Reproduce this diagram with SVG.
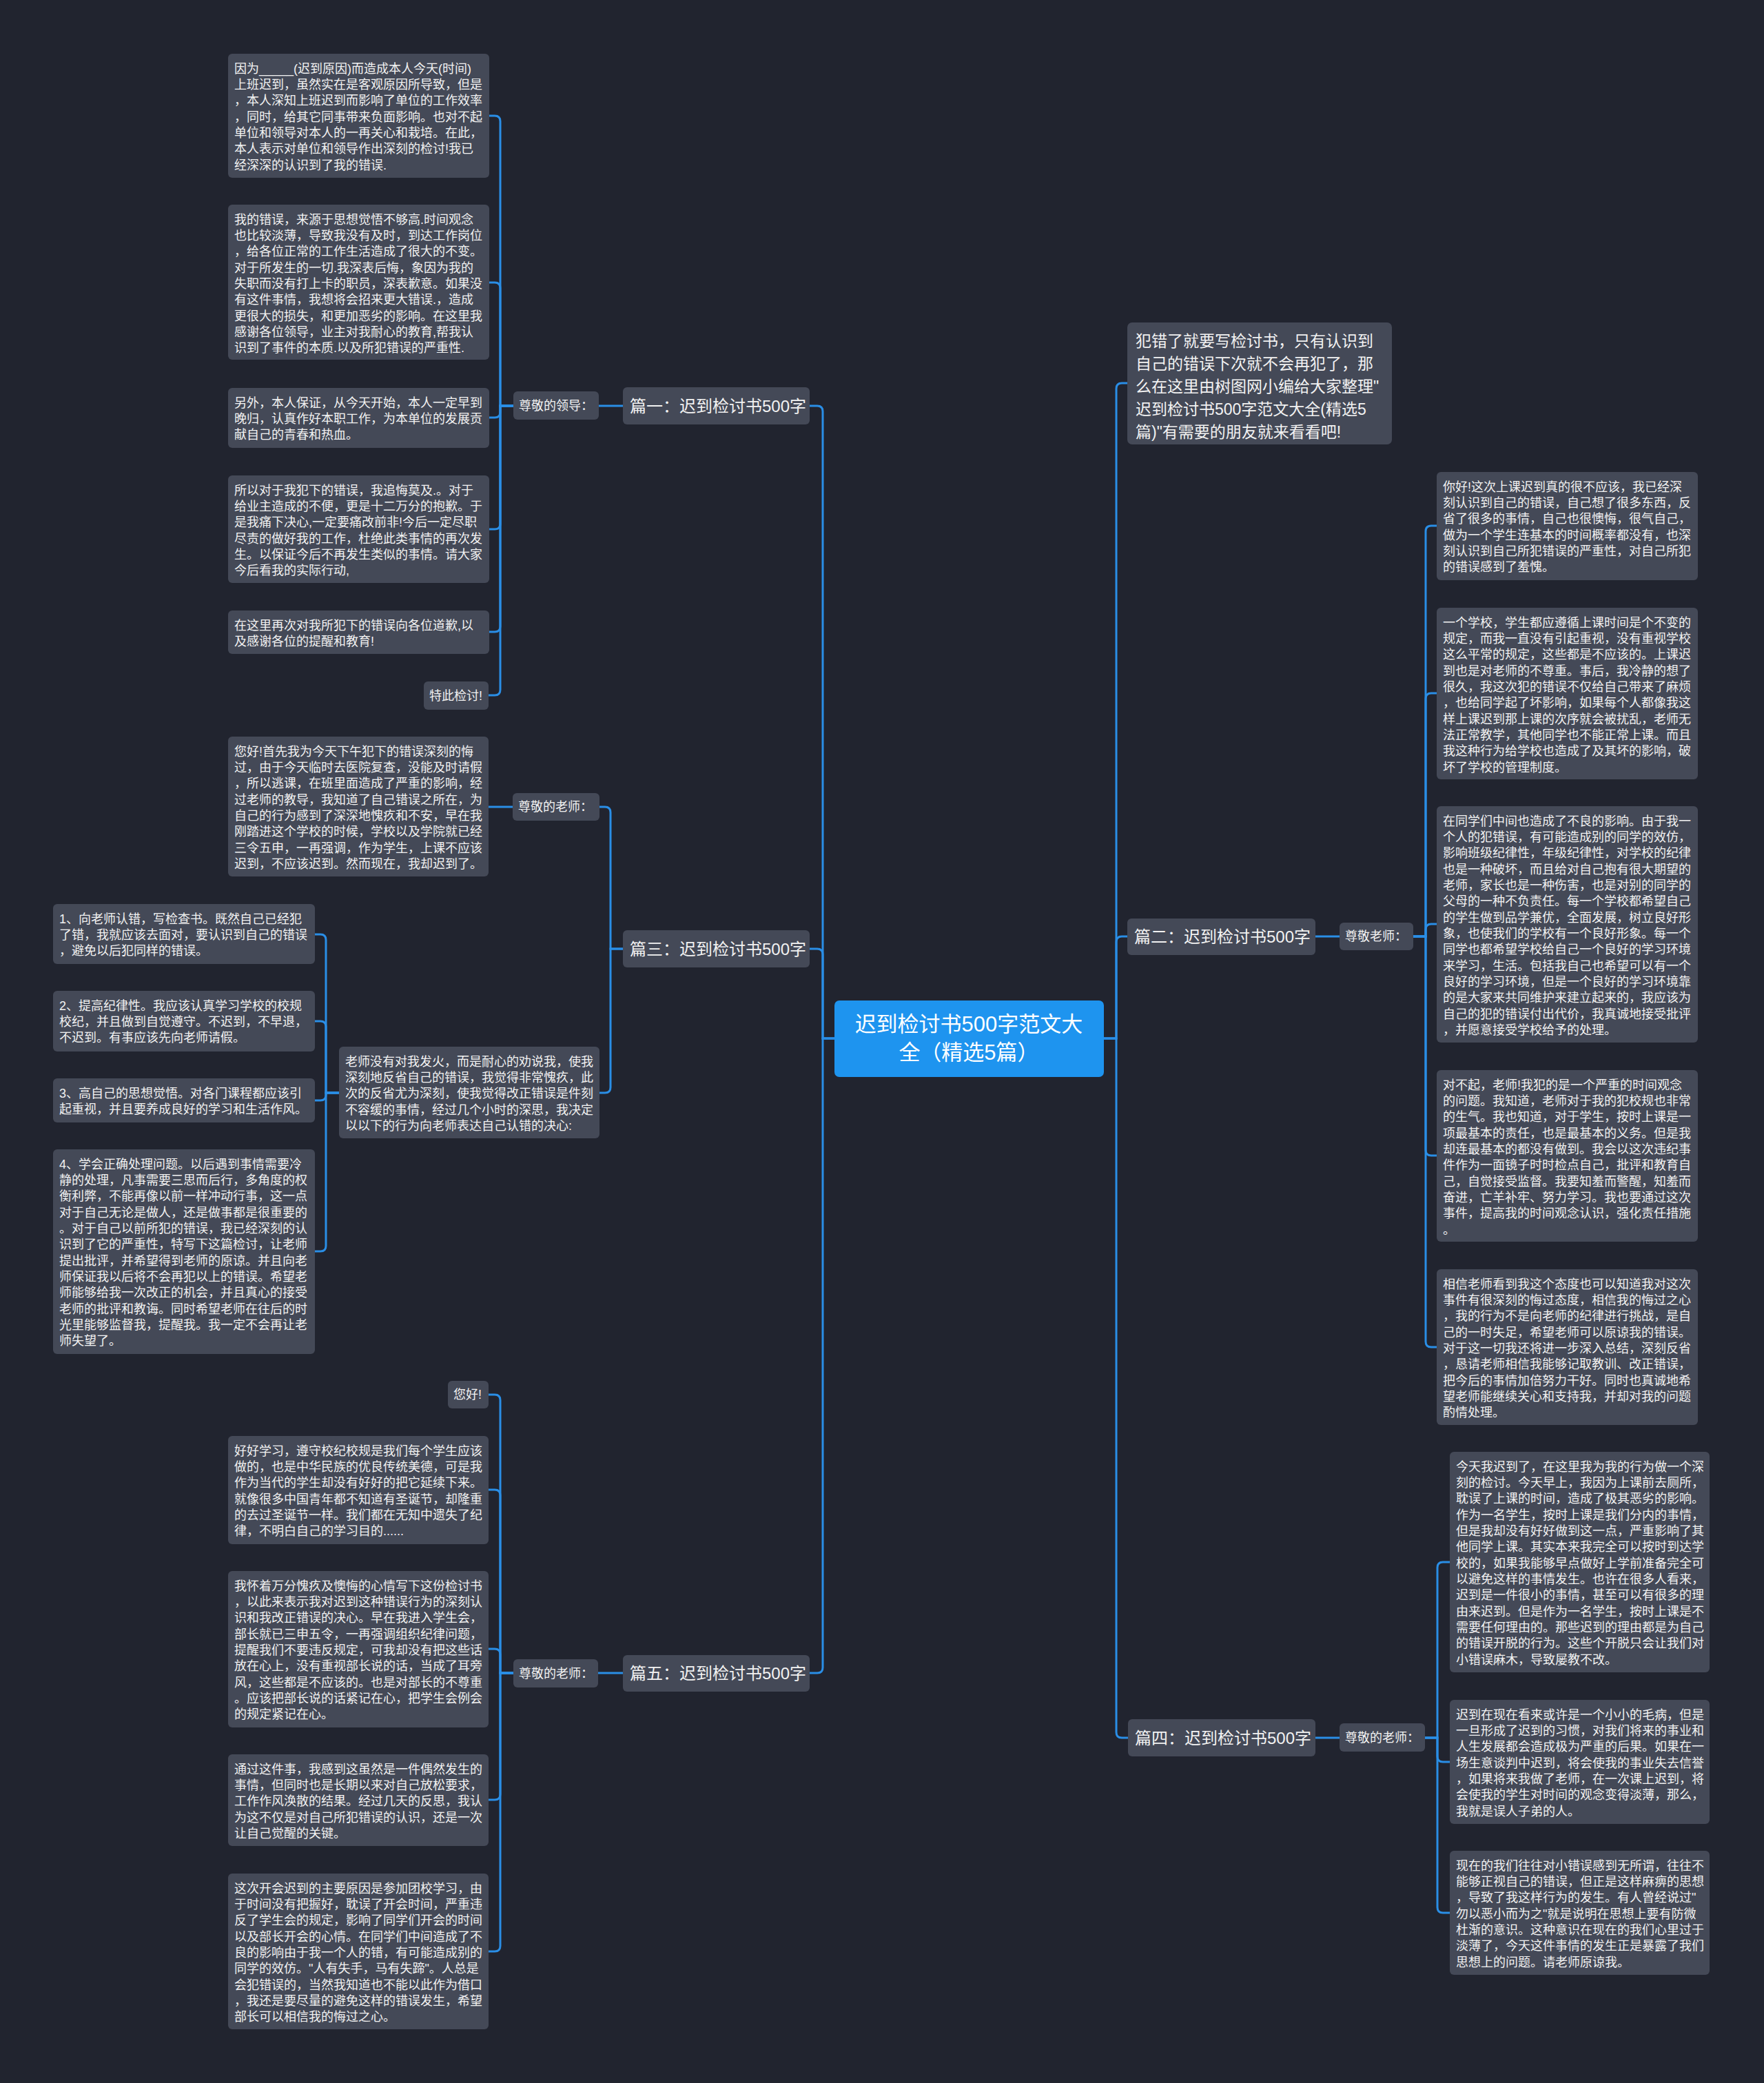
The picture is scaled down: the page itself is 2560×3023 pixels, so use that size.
<svg xmlns="http://www.w3.org/2000/svg" width="2560" height="3023" viewBox="0 0 2560 3023">
<style>
.box{fill:#444957}
.t{font-family:"Liberation Sans","Noto Sans CJK SC",sans-serif;font-size:18px;fill:#f2f2f2;dominant-baseline:central}
.h{font-family:"Liberation Sans","Noto Sans CJK SC",sans-serif;font-size:24px;fill:#f2f2f2;dominant-baseline:central}
.it{font-family:"Liberation Sans","Noto Sans CJK SC",sans-serif;font-size:23px;fill:#f2f2f2;dominant-baseline:central}
.c{font-family:"Liberation Sans","Noto Sans CJK SC",sans-serif;font-size:31px;fill:#ffffff;dominant-baseline:central;text-anchor:middle}
.conn path{fill:none;stroke:#2a8ee6;stroke-width:3}
</style>
<rect width="2560" height="3023" fill="#21242f"/>
<g class="conn" id="connectors">
<path d="M1211 1507 H1194 V597 Q1194 589 1186 589 H1175"/>
<path d="M1211 1507 H1194 V1385 Q1194 1377 1186 1377 H1175"/>
<path d="M1211 1507 H1194 V2420 Q1194 2428 1186 2428 H1175"/>
<path d="M1602 1507 H1620 V564 Q1620 556 1628 556 H1636"/>
<path d="M1602 1507 H1620 V1367 Q1620 1359 1628 1359 H1636"/>
<path d="M1602 1507 H1620 V2514 Q1620 2522 1628 2522 H1637"/>
<path d="M904 589 H869"/>
<path d="M745 589 H726 V176 Q726 168 718 168 H710"/>
<path d="M745 589 H726 V418 Q726 410 718 410 H710"/>
<path d="M745 589 H726 V598 Q726 606 718 606 H710"/>
<path d="M745 589 H726 V760 Q726 768 718 768 H710"/>
<path d="M745 589 H726 V909 Q726 917 718 917 H710"/>
<path d="M745 589 H726 V1001 Q726 1009 718 1009 H709"/>
<path d="M904 1377 H886 V1179 Q886 1171 878 1171 H870"/>
<path d="M904 1377 H886 V1578 Q886 1586 878 1586 H870"/>
<path d="M744 1171 H709"/>
<path d="M492 1586 H473 V1364 Q473 1356 465 1356 H457"/>
<path d="M492 1586 H473 V1490 Q473 1482 465 1482 H457"/>
<path d="M492 1586 H473 V1589 Q473 1597 465 1597 H457"/>
<path d="M492 1586 H473 V1808 Q473 1816 465 1816 H457"/>
<path d="M904 2428 H868"/>
<path d="M745 2428 H726 V2032 Q726 2024 718 2024 H709"/>
<path d="M745 2428 H726 V2170 Q726 2162 718 2162 H709"/>
<path d="M745 2428 H726 V2401 Q726 2393 718 2393 H709"/>
<path d="M745 2428 H726 V2604 Q726 2612 718 2612 H709"/>
<path d="M745 2428 H726 V2824 Q726 2832 718 2832 H709"/>
<path d="M1909 1359 H1944"/>
<path d="M2051 1359 H2069 V771 Q2069 763 2077 763 H2085"/>
<path d="M2051 1359 H2069 V1014 Q2069 1006 2077 1006 H2085"/>
<path d="M2051 1359 H2069 V1349 Q2069 1341 2077 1341 H2085"/>
<path d="M2051 1359 H2069 V1669 Q2069 1677 2077 1677 H2085"/>
<path d="M2051 1359 H2069 V1947 Q2069 1955 2077 1955 H2085"/>
<path d="M1909 2522 H1944"/>
<path d="M2068 2522 H2086 V2275 Q2086 2267 2094 2267 H2104"/>
<path d="M2068 2522 H2086 V2549 Q2086 2557 2094 2557 H2104"/>
<path d="M2068 2522 H2086 V2768 Q2086 2776 2094 2776 H2104"/>
</g>

<g id="center">
<rect x="1211" y="1452" width="391" height="111" rx="7" fill="#1e94ef"/>
<text class="c" x="1406" y="1486">迟到检讨书500字范文大</text>
<text class="c" x="1406" y="1527">全（精选5篇）</text>
</g>

<g id="p1">
<rect class="box" x="904" y="562" width="271" height="54" rx="6"/>
<text class="h" x="914" y="589">篇一：迟到检讨书500字</text>
</g>
<g id="p1-label">
<rect class="box" x="745" y="568" width="124" height="41" rx="6"/>
<text class="t" x="753" y="589">尊敬的领导：</text>
</g>
<g id="p1-a">
<rect class="box" x="331" y="78" width="379" height="180" rx="6"/>
<text class="t" x="340" y="99.7">因为_____(迟到原因)而造成本人今天(时间)<tspan x="340" dy="23.33">上班迟到，虽然实在是客观原因所导致，但是</tspan><tspan x="340" dy="23.33">，本人深知上班迟到而影响了单位的工作效率</tspan><tspan x="340" dy="23.33">，同时，给其它同事带来负面影响。也对不起</tspan><tspan x="340" dy="23.33">单位和领导对本人的一再关心和栽培。在此，</tspan><tspan x="340" dy="23.33">本人表示对单位和领导作出深刻的检讨!我已</tspan><tspan x="340" dy="23.33">经深深的认识到了我的错误.</tspan></text>
</g>
<g id="p1-b">
<rect class="box" x="331" y="297" width="379" height="225" rx="6"/>
<text class="t" x="340" y="318.7">我的错误，来源于思想觉悟不够高.时间观念<tspan x="340" dy="23.33">也比较淡薄，导致我没有及时，到达工作岗位</tspan><tspan x="340" dy="23.33">，给各位正常的工作生活造成了很大的不变。</tspan><tspan x="340" dy="23.33">对于所发生的一切.我深表后悔，象因为我的</tspan><tspan x="340" dy="23.33">失职而没有打上卡的职员，深表歉意。如果没</tspan><tspan x="340" dy="23.33">有这件事情，我想将会招来更大错误.，造成</tspan><tspan x="340" dy="23.33">更很大的损失，和更加恶劣的影响。在这里我</tspan><tspan x="340" dy="23.33">感谢各位领导，业主对我耐心的教育,帮我认</tspan><tspan x="340" dy="23.33">识到了事件的本质.以及所犯错误的严重性.</tspan></text>
</g>
<g id="p1-c">
<rect class="box" x="331" y="563" width="379" height="87" rx="6"/>
<text class="t" x="340" y="584.7">另外，本人保证，从今天开始，本人一定早到<tspan x="340" dy="23.33">晚归，认真作好本职工作，为本单位的发展贡</tspan><tspan x="340" dy="23.33">献自己的青春和热血。</tspan></text>
</g>
<g id="p1-d">
<rect class="box" x="331" y="690" width="379" height="156" rx="6"/>
<text class="t" x="340" y="711.7">所以对于我犯下的错误，我追悔莫及.。对于<tspan x="340" dy="23.33">给业主造成的不便，更是十二万分的抱歉。于</tspan><tspan x="340" dy="23.33">是我痛下决心,一定要痛改前非!今后一定尽职</tspan><tspan x="340" dy="23.33">尽责的做好我的工作，杜绝此类事情的再次发</tspan><tspan x="340" dy="23.33">生。以保证今后不再发生类似的事情。请大家</tspan><tspan x="340" dy="23.33">今后看我的实际行动,</tspan></text>
</g>
<g id="p1-e">
<rect class="box" x="331" y="886" width="379" height="63" rx="6"/>
<text class="t" x="340" y="907.7">在这里再次对我所犯下的错误向各位道歉,以<tspan x="340" dy="23.33">及感谢各位的提醒和教育!</tspan></text>
</g>
<g id="p1-f">
<rect class="box" x="615" y="989" width="94" height="41" rx="6"/>
<text class="t" x="623" y="1009.5">特此检讨!</text>
</g>

<g id="p3">
<rect class="box" x="904" y="1350" width="271" height="54" rx="6"/>
<text class="h" x="914" y="1377">篇三：迟到检讨书500字</text>
</g>
<g id="p3-label">
<rect class="box" x="744" y="1151" width="126" height="40" rx="6"/>
<text class="t" x="752" y="1171">尊敬的老师：</text>
</g>
<g id="p3-a">
<rect class="box" x="331" y="1069" width="378" height="203" rx="6"/>
<text class="t" x="340" y="1090.7">您好!首先我为今天下午犯下的错误深刻的悔<tspan x="340" dy="23.33">过，由于今天临时去医院复查，没能及时请假</tspan><tspan x="340" dy="23.33">，所以逃课，在班里面造成了严重的影响，经</tspan><tspan x="340" dy="23.33">过老师的教导，我知道了自己错误之所在，为</tspan><tspan x="340" dy="23.33">自己的行为感到了深深地愧疚和不安，早在我</tspan><tspan x="340" dy="23.33">刚踏进这个学校的时候，学校以及学院就已经</tspan><tspan x="340" dy="23.33">三令五申，一再强调，作为学生，上课不应该</tspan><tspan x="340" dy="23.33">迟到，不应该迟到。然而现在，我却迟到了。</tspan></text>
</g>
<g id="p3-b">
<rect class="box" x="492" y="1519" width="378" height="133" rx="6"/>
<text class="t" x="501" y="1540.7">老师没有对我发火，而是耐心的劝说我，使我<tspan x="501" dy="23.33">深刻地反省自己的错误，我觉得非常愧疚，此</tspan><tspan x="501" dy="23.33">次的反省尤为深刻，使我觉得改正错误是件刻</tspan><tspan x="501" dy="23.33">不容缓的事情，经过几个小时的深思，我决定</tspan><tspan x="501" dy="23.33">以以下的行为向老师表达自己认错的决心:</tspan></text>
</g>
<g id="p3-b1">
<rect class="box" x="77" y="1312" width="380" height="87" rx="6"/>
<text class="t" x="86" y="1333.7">1、向老师认错，写检查书。既然自己已经犯<tspan x="86" dy="23.33">了错，我就应该去面对，要认识到自己的错误</tspan><tspan x="86" dy="23.33">，避免以后犯同样的错误。</tspan></text>
</g>
<g id="p3-b2">
<rect class="box" x="77" y="1438" width="380" height="88" rx="6"/>
<text class="t" x="86" y="1459.7">2、提高纪律性。我应该认真学习学校的校规<tspan x="86" dy="23.33">校纪，并且做到自觉遵守。不迟到，不早退，</tspan><tspan x="86" dy="23.33">不迟到。有事应该先向老师请假。</tspan></text>
</g>
<g id="p3-b3">
<rect class="box" x="77" y="1565" width="380" height="64" rx="6"/>
<text class="t" x="86" y="1586.7">3、高自己的思想觉悟。对各门课程都应该引<tspan x="86" dy="23.33">起重视，并且要养成良好的学习和生活作风。</tspan></text>
</g>
<g id="p3-b4">
<rect class="box" x="77" y="1668" width="380" height="297" rx="6"/>
<text class="t" x="86" y="1689.7">4、学会正确处理问题。以后遇到事情需要冷<tspan x="86" dy="23.33">静的处理，凡事需要三思而后行，多角度的权</tspan><tspan x="86" dy="23.33">衡利弊，不能再像以前一样冲动行事，这一点</tspan><tspan x="86" dy="23.33">对于自己无论是做人，还是做事都是很重要的</tspan><tspan x="86" dy="23.33">。对于自己以前所犯的错误，我已经深刻的认</tspan><tspan x="86" dy="23.33">识到了它的严重性，特写下这篇检讨，让老师</tspan><tspan x="86" dy="23.33">提出批评，并希望得到老师的原谅。并且向老</tspan><tspan x="86" dy="23.33">师保证我以后将不会再犯以上的错误。希望老</tspan><tspan x="86" dy="23.33">师能够给我一次改正的机会，并且真心的接受</tspan><tspan x="86" dy="23.33">老师的批评和教诲。同时希望老师在往后的时</tspan><tspan x="86" dy="23.33">光里能够监督我，提醒我。我一定不会再让老</tspan><tspan x="86" dy="23.33">师失望了。</tspan></text>
</g>

<g id="p5">
<rect class="box" x="904" y="2402" width="271" height="53" rx="6"/>
<text class="h" x="914" y="2428">篇五：迟到检讨书500字</text>
</g>
<g id="p5-label">
<rect class="box" x="745" y="2408" width="123" height="41" rx="6"/>
<text class="t" x="753" y="2428.5">尊敬的老师：</text>
</g>
<g id="p5-a">
<rect class="box" x="650" y="2004" width="59" height="40" rx="6"/>
<text class="t" x="658" y="2024">您好!</text>
</g>
<g id="p5-b">
<rect class="box" x="331" y="2084" width="378" height="157" rx="6"/>
<text class="t" x="340" y="2105.7">好好学习，遵守校纪校规是我们每个学生应该<tspan x="340" dy="23.33">做的，也是中华民族的优良传统美德，可是我</tspan><tspan x="340" dy="23.33">作为当代的学生却没有好好的把它延续下来。</tspan><tspan x="340" dy="23.33">就像很多中国青年都不知道有圣诞节，却隆重</tspan><tspan x="340" dy="23.33">的去过圣诞节一样。我们都在无知中遗失了纪</tspan><tspan x="340" dy="23.33">律，不明白自己的学习目的......</tspan></text>
</g>
<g id="p5-c">
<rect class="box" x="331" y="2280" width="378" height="227" rx="6"/>
<text class="t" x="340" y="2301.7">我怀着万分愧疚及懊悔的心情写下这份检讨书<tspan x="340" dy="23.33">，以此来表示我对迟到这种错误行为的深刻认</tspan><tspan x="340" dy="23.33">识和我改正错误的决心。早在我进入学生会，</tspan><tspan x="340" dy="23.33">部长就已三申五令，一再强调组织纪律问题，</tspan><tspan x="340" dy="23.33">提醒我们不要违反规定，可我却没有把这些话</tspan><tspan x="340" dy="23.33">放在心上，没有重视部长说的话，当成了耳旁</tspan><tspan x="340" dy="23.33">风，这些都是不应该的。也是对部长的不尊重</tspan><tspan x="340" dy="23.33">。应该把部长说的话紧记在心，把学生会例会</tspan><tspan x="340" dy="23.33">的规定紧记在心。</tspan></text>
</g>
<g id="p5-d">
<rect class="box" x="331" y="2546" width="378" height="133" rx="6"/>
<text class="t" x="340" y="2567.7">通过这件事，我感到这虽然是一件偶然发生的<tspan x="340" dy="23.33">事情，但同时也是长期以来对自己放松要求，</tspan><tspan x="340" dy="23.33">工作作风涣散的结果。经过几天的反思，我认</tspan><tspan x="340" dy="23.33">为这不仅是对自己所犯错误的认识，还是一次</tspan><tspan x="340" dy="23.33">让自己觉醒的关键。</tspan></text>
</g>
<g id="p5-e">
<rect class="box" x="331" y="2719" width="378" height="226" rx="6"/>
<text class="t" x="340" y="2740.7">这次开会迟到的主要原因是参加团校学习，由<tspan x="340" dy="23.33">于时间没有把握好，耽误了开会时间，严重违</tspan><tspan x="340" dy="23.33">反了学生会的规定，影响了同学们开会的时间</tspan><tspan x="340" dy="23.33">以及部长开会的心情。在同学们中间造成了不</tspan><tspan x="340" dy="23.33">良的影响由于我一个人的错，有可能造成别的</tspan><tspan x="340" dy="23.33">同学的效仿。"人有失手，马有失蹄"。人总是</tspan><tspan x="340" dy="23.33">会犯错误的，当然我知道也不能以此作为借口</tspan><tspan x="340" dy="23.33">，我还是要尽量的避免这样的错误发生，希望</tspan><tspan x="340" dy="23.33">部长可以相信我的悔过之心。</tspan></text>
</g>

<g id="intro">
<rect class="box" x="1636" y="468" width="384" height="177" rx="7"/>
<text class="it" x="1648" y="495">犯错了就要写检讨书，只有认识到<tspan x="1648" dy="33">自己的错误下次就不会再犯了，那</tspan><tspan x="1648" dy="33">么在这里由树图网小编给大家整理"</tspan><tspan x="1648" dy="33">迟到检讨书500字范文大全(精选5</tspan><tspan x="1648" dy="33">篇)"有需要的朋友就来看看吧!</tspan></text>
</g>

<g id="p2">
<rect class="box" x="1636" y="1333" width="273" height="53" rx="6"/>
<text class="h" x="1646" y="1359">篇二：迟到检讨书500字</text>
</g>
<g id="p2-label">
<rect class="box" x="1944" y="1339" width="107" height="40" rx="6"/>
<text class="t" x="1952" y="1359">尊敬老师：</text>
</g>
<g id="p2-a">
<rect class="box" x="2085" y="685" width="379" height="157" rx="6"/>
<text class="t" x="2094" y="706.7">你好!这次上课迟到真的很不应该，我已经深<tspan x="2094" dy="23.33">刻认识到自己的错误，自己想了很多东西，反</tspan><tspan x="2094" dy="23.33">省了很多的事情，自己也很懊悔，很气自己，</tspan><tspan x="2094" dy="23.33">做为一个学生连基本的时间概率都没有，也深</tspan><tspan x="2094" dy="23.33">刻认识到自己所犯错误的严重性，对自己所犯</tspan><tspan x="2094" dy="23.33">的错误感到了羞愧。</tspan></text>
</g>
<g id="p2-b">
<rect class="box" x="2085" y="882" width="379" height="249" rx="6"/>
<text class="t" x="2094" y="903.7">一个学校，学生都应遵循上课时间是个不变的<tspan x="2094" dy="23.33">规定，而我一直没有引起重视，没有重视学校</tspan><tspan x="2094" dy="23.33">这么平常的规定，这些都是不应该的。上课迟</tspan><tspan x="2094" dy="23.33">到也是对老师的不尊重。事后，我冷静的想了</tspan><tspan x="2094" dy="23.33">很久，我这次犯的错误不仅给自己带来了麻烦</tspan><tspan x="2094" dy="23.33">，也给同学起了坏影响，如果每个人都像我这</tspan><tspan x="2094" dy="23.33">样上课迟到那上课的次序就会被扰乱，老师无</tspan><tspan x="2094" dy="23.33">法正常教学，其他同学也不能正常上课。而且</tspan><tspan x="2094" dy="23.33">我这种行为给学校也造成了及其坏的影响，破</tspan><tspan x="2094" dy="23.33">坏了学校的管理制度。</tspan></text>
</g>
<g id="p2-c">
<rect class="box" x="2085" y="1170" width="379" height="343" rx="6"/>
<text class="t" x="2094" y="1191.7">在同学们中间也造成了不良的影响。由于我一<tspan x="2094" dy="23.33">个人的犯错误，有可能造成别的同学的效仿，</tspan><tspan x="2094" dy="23.33">影响班级纪律性，年级纪律性，对学校的纪律</tspan><tspan x="2094" dy="23.33">也是一种破坏，而且给对自己抱有很大期望的</tspan><tspan x="2094" dy="23.33">老师，家长也是一种伤害，也是对别的同学的</tspan><tspan x="2094" dy="23.33">父母的一种不负责任。每一个学校都希望自己</tspan><tspan x="2094" dy="23.33">的学生做到品学兼优，全面发展，树立良好形</tspan><tspan x="2094" dy="23.33">象，也使我们的学校有一个良好形象。每一个</tspan><tspan x="2094" dy="23.33">同学也都希望学校给自己一个良好的学习环境</tspan><tspan x="2094" dy="23.33">来学习，生活。包括我自己也希望可以有一个</tspan><tspan x="2094" dy="23.33">良好的学习环境，但是一个良好的学习环境靠</tspan><tspan x="2094" dy="23.33">的是大家来共同维护来建立起来的，我应该为</tspan><tspan x="2094" dy="23.33">自己的犯的错误付出代价，我真诚地接受批评</tspan><tspan x="2094" dy="23.33">，并愿意接受学校给予的处理。</tspan></text>
</g>
<g id="p2-d">
<rect class="box" x="2085" y="1553" width="379" height="249" rx="6"/>
<text class="t" x="2094" y="1574.7">对不起，老师!我犯的是一个严重的时间观念<tspan x="2094" dy="23.33">的问题。我知道，老师对于我的犯校规也非常</tspan><tspan x="2094" dy="23.33">的生气。我也知道，对于学生，按时上课是一</tspan><tspan x="2094" dy="23.33">项最基本的责任，也是最基本的义务。但是我</tspan><tspan x="2094" dy="23.33">却连最基本的都没有做到。我会以这次违纪事</tspan><tspan x="2094" dy="23.33">件作为一面镜子时时检点自己，批评和教育自</tspan><tspan x="2094" dy="23.33">己，自觉接受监督。我要知羞而警醒，知羞而</tspan><tspan x="2094" dy="23.33">奋进，亡羊补牢、努力学习。我也要通过这次</tspan><tspan x="2094" dy="23.33">事件，提高我的时间观念认识，强化责任措施</tspan><tspan x="2094" dy="23.33">。</tspan></text>
</g>
<g id="p2-e">
<rect class="box" x="2085" y="1842" width="379" height="226" rx="6"/>
<text class="t" x="2094" y="1863.7">相信老师看到我这个态度也可以知道我对这次<tspan x="2094" dy="23.33">事件有很深刻的悔过态度，相信我的悔过之心</tspan><tspan x="2094" dy="23.33">，我的行为不是向老师的纪律进行挑战，是自</tspan><tspan x="2094" dy="23.33">己的一时失足，希望老师可以原谅我的错误。</tspan><tspan x="2094" dy="23.33">对于这一切我还将进一步深入总结，深刻反省</tspan><tspan x="2094" dy="23.33">，恳请老师相信我能够记取教训、改正错误，</tspan><tspan x="2094" dy="23.33">把今后的事情加倍努力干好。同时也真诚地希</tspan><tspan x="2094" dy="23.33">望老师能继续关心和支持我，并却对我的问题</tspan><tspan x="2094" dy="23.33">酌情处理。</tspan></text>
</g>

<g id="p4">
<rect class="box" x="1637" y="2495" width="272" height="54" rx="6"/>
<text class="h" x="1647" y="2522">篇四：迟到检讨书500字</text>
</g>
<g id="p4-label">
<rect class="box" x="1944" y="2501" width="124" height="41" rx="6"/>
<text class="t" x="1952" y="2521.5">尊敬的老师：</text>
</g>
<g id="p4-a">
<rect class="box" x="2104" y="2107" width="377" height="320" rx="6"/>
<text class="t" x="2113" y="2128.7">今天我迟到了，在这里我为我的行为做一个深<tspan x="2113" dy="23.33">刻的检讨。今天早上，我因为上课前去厕所，</tspan><tspan x="2113" dy="23.33">耽误了上课的时间，造成了极其恶劣的影响。</tspan><tspan x="2113" dy="23.33">作为一名学生，按时上课是我们分内的事情，</tspan><tspan x="2113" dy="23.33">但是我却没有好好做到这一点，严重影响了其</tspan><tspan x="2113" dy="23.33">他同学上课。其实本来我完全可以按时到达学</tspan><tspan x="2113" dy="23.33">校的，如果我能够早点做好上学前准备完全可</tspan><tspan x="2113" dy="23.33">以避免这样的事情发生。也许在很多人看来，</tspan><tspan x="2113" dy="23.33">迟到是一件很小的事情，甚至可以有很多的理</tspan><tspan x="2113" dy="23.33">由来迟到。但是作为一名学生，按时上课是不</tspan><tspan x="2113" dy="23.33">需要任何理由的。那些迟到的理由都是为自己</tspan><tspan x="2113" dy="23.33">的错误开脱的行为。这些个开脱只会让我们对</tspan><tspan x="2113" dy="23.33">小错误麻木，导致屡教不改。</tspan></text>
</g>
<g id="p4-b">
<rect class="box" x="2104" y="2467" width="377" height="180" rx="6"/>
<text class="t" x="2113" y="2488.7">迟到在现在看来或许是一个小小的毛病，但是<tspan x="2113" dy="23.33">一旦形成了迟到的习惯，对我们将来的事业和</tspan><tspan x="2113" dy="23.33">人生发展都会造成极为严重的后果。如果在一</tspan><tspan x="2113" dy="23.33">场生意谈判中迟到，将会使我的事业失去信誉</tspan><tspan x="2113" dy="23.33">，如果将来我做了老师，在一次课上迟到，将</tspan><tspan x="2113" dy="23.33">会使我的学生对时间的观念变得淡薄，那么，</tspan><tspan x="2113" dy="23.33">我就是误人子弟的人。</tspan></text>
</g>
<g id="p4-c">
<rect class="box" x="2104" y="2686" width="377" height="180" rx="6"/>
<text class="t" x="2113" y="2707.7">现在的我们往往对小错误感到无所谓，往往不<tspan x="2113" dy="23.33">能够正视自己的错误，但正是这样麻痹的思想</tspan><tspan x="2113" dy="23.33">，导致了我这样行为的发生。有人曾经说过"</tspan><tspan x="2113" dy="23.33">勿以恶小而为之"就是说明在思想上要有防微</tspan><tspan x="2113" dy="23.33">杜渐的意识。这种意识在现在的我们心里过于</tspan><tspan x="2113" dy="23.33">淡薄了，今天这件事情的发生正是暴露了我们</tspan><tspan x="2113" dy="23.33">思想上的问题。请老师原谅我。</tspan></text>
</g>
</svg>
